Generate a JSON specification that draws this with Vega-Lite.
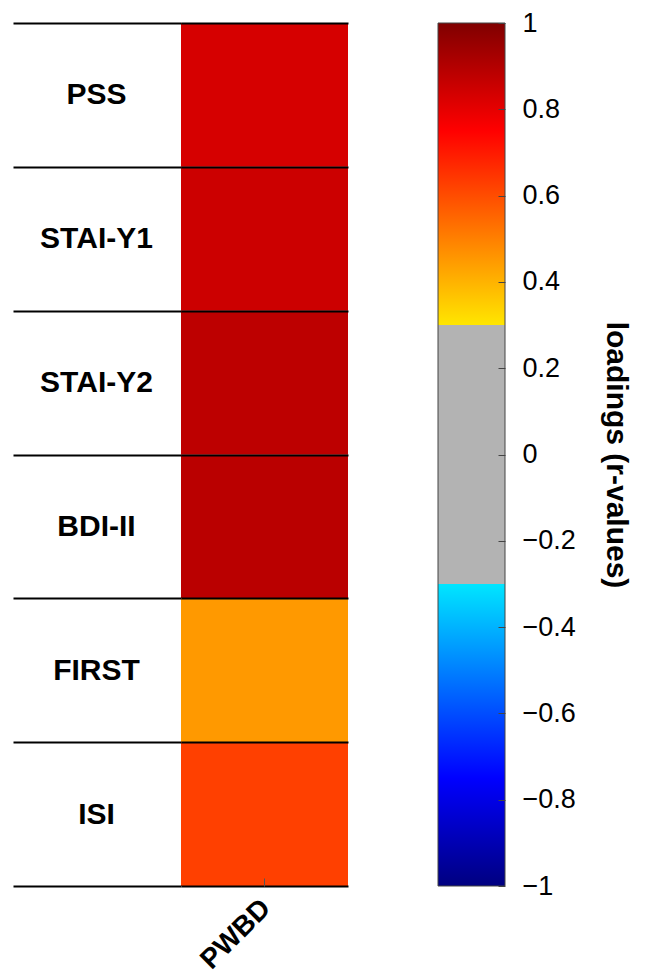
{
  "$schema": "https://vega.github.io/schema/vega-lite/v6.json",
  "background": "white",
  "padding": {"left": 12, "top": 8, "right": 2, "bottom": 0},
  "config": {
    "view": {"stroke": null},
    "font": "Liberation Sans",
    "axis": {"labelFont": "Liberation Sans", "titleFont": "Liberation Sans", "labelColor": "black", "titleColor": "black"}
  },
  "datasets": {
    "loadings": [
      {"measure": "PSS", "component": "PWBD", "r": 0.83},
      {"measure": "STAI-Y1", "component": "PWBD", "r": 0.85},
      {"measure": "STAI-Y2", "component": "PWBD", "r": 0.88},
      {"measure": "BDI-II", "component": "PWBD", "r": 0.885},
      {"measure": "FIRST", "component": "PWBD", "r": 0.45},
      {"measure": "ISI", "component": "PWBD", "r": 0.625}
    ],
    "colorbar": [
      {"lo": -1, "hi": 1}
    ]
  },
  "spacing": 89,
  "hconcat": [
    {
      "width": 167,
      "height": 863,
      "data": {"name": "loadings"},
      "mark": {"type": "rect"},
      "encoding": {
        "y": {
          "field": "measure",
          "type": "nominal",
          "sort": null,
          "scale": {"paddingInner": 0, "paddingOuter": 0},
          "axis": {
            "title": null,
            "orient": "left",
            "domain": false,
            "ticks": true,
            "tickBand": "extent",
            "tickSize": 168,
            "tickWidth": 2,
            "tickColor": "black",
            "grid": true,
            "gridColor": "black",
            "gridWidth": 2,
            "gridOpacity": 1,
            "labelAlign": "center",
            "labelBaseline": "middle",
            "labelPadding": -83,
            "labelFontSize": 30,
            "labelFontWeight": "bold",
            "zindex": 1
          }
        },
        "x": {
          "field": "component",
          "type": "nominal",
          "scale": {"paddingInner": 0, "paddingOuter": 0},
          "axis": {
            "title": null,
            "orient": "bottom",
            "domain": false,
            "ticks": true,
            "tickSize": -8,
            "tickColor": "#555",
            "tickWidth": 1,
            "labelAngle": -45,
            "labelAlign": "right",
            "labelBaseline": "top",
            "labelPadding": 16,
            "labelOffset": -8,
            "labelFontSize": 28,
            "labelFontWeight": "bold",
            "zindex": 1
          }
        },
        "color": {
          "field": "r",
          "type": "quantitative",
          "scale": {
            "domain": [-1, -0.75, -0.3, -0.2999, 0.2999, 0.3, 0.75, 1],
            "range": ["#000080", "#0000ff", "#00e6ff", "#b3b3b3", "#b3b3b3", "#ffe600", "#ff0000", "#800000"],
            "interpolate": "rgb"
          },
          "legend": null
        }
      }
    },
    {
      "width": 67,
      "height": 863,
      "data": {"name": "colorbar"},
      "mark": {
        "type": "rect",
        "stroke": "#444",
        "strokeWidth": 1,
        "fill": {
          "gradient": "linear",
          "x1": 0, "y1": 0, "x2": 0, "y2": 1,
          "stops": [
            {"offset": 0, "color": "#800000"},
            {"offset": 0.125, "color": "#ff0000"},
            {"offset": 0.35, "color": "#ffe600"},
            {"offset": 0.35, "color": "#b3b3b3"},
            {"offset": 0.65, "color": "#b3b3b3"},
            {"offset": 0.65, "color": "#00e6ff"},
            {"offset": 0.875, "color": "#0000ff"},
            {"offset": 1, "color": "#000080"}
          ]
        }
      },
      "encoding": {
        "x": {"value": 0},
        "x2": {"value": "width"},
        "y": {
          "field": "lo",
          "type": "quantitative",
          "scale": {"domain": [-1, 1], "nice": false, "zero": false},
          "axis": {
            "orient": "right",
            "title": "loadings (r-values)",
            "titleFontSize": 30,
            "titleFontWeight": "bold",
            "titleAngle": 90,
            "titlePadding": 25,
            "domain": false,
            "grid": false,
            "values": [-1, -0.8, -0.6, -0.4, -0.2, 0, 0.2, 0.4, 0.6, 0.8, 1],
            "format": ".1~f",
            "tickSize": -7,
            "tickColor": "#444",
            "tickWidth": 1,
            "labelPadding": 24,
            "labelFontSize": 27,
            "labelFlush": false,
            "labelOverlap": false,
            "zindex": 1
          }
        },
        "y2": {"field": "hi"}
      }
    }
  ]
}
